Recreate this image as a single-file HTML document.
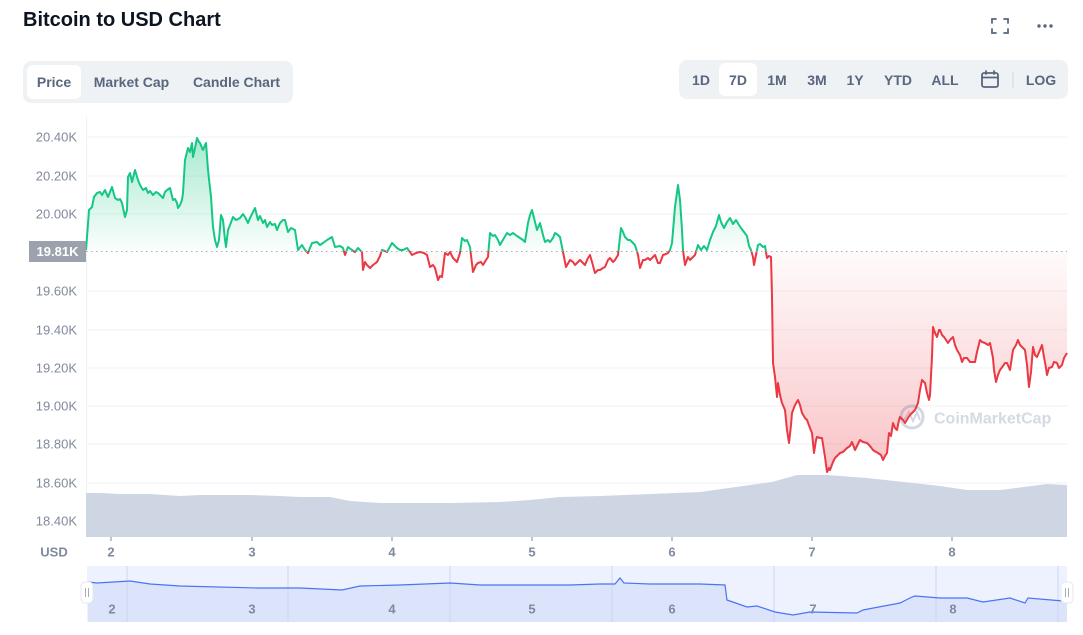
<!DOCTYPE html>
<html><head><meta charset="utf-8">
<style>
html,body{margin:0;padding:0;background:#fff;}
body{width:1083px;height:635px;overflow:hidden;position:relative;font-family:"Liberation Sans",Arial,sans-serif;}
.title{position:absolute;left:23px;top:10px;font-size:20px;line-height:20px;font-weight:bold;color:#0d1421;white-space:nowrap;}
.grp{position:absolute;background:#eff2f5;border-radius:8px;}
.act{position:absolute;background:#fff;border-radius:6px;}
.lbl{position:absolute;font-size:14px;font-weight:bold;color:#58667e;text-align:center;white-space:nowrap;line-height:16px;}
svg{position:absolute;left:0;top:0;}
</style></head><body>
<div class="title">Bitcoin to USD Chart</div>

<div class="grp" style="left:23px;top:61px;width:270px;height:42px;"></div>
<div class="act" style="left:27px;top:65px;width:54px;height:34px;"></div>
<div class="lbl" style="left:14px;top:74px;width:80px;">Price</div>
<div class="lbl" style="left:81px;top:74px;width:101px;">Market Cap</div>
<div class="lbl" style="left:186px;top:74px;width:101px;">Candle Chart</div>

<div class="grp" style="left:679px;top:60px;width:389px;height:39px;"></div>
<div class="act" style="left:719px;top:63px;width:38px;height:33px;"></div>
<div class="lbl" style="left:681px;top:72px;width:40px;">1D</div>
<div class="lbl" style="left:718px;top:72px;width:40px;">7D</div>
<div class="lbl" style="left:757px;top:72px;width:40px;">1M</div>
<div class="lbl" style="left:797px;top:72px;width:40px;">3M</div>
<div class="lbl" style="left:835px;top:72px;width:40px;">1Y</div>
<div class="lbl" style="left:873px;top:72px;width:50px;">YTD</div>
<div class="lbl" style="left:920px;top:72px;width:50px;">ALL</div>
<div class="lbl" style="left:1016px;top:72px;width:50px;">LOG</div>

<svg width="1083" height="635" viewBox="0 0 1083 635" xmlns="http://www.w3.org/2000/svg">
<defs>
<linearGradient id="gg" gradientUnits="userSpaceOnUse" x1="0" y1="137" x2="0" y2="251">
<stop offset="0" stop-color="#16c784" stop-opacity="0.38"/>
<stop offset="1" stop-color="#16c784" stop-opacity="0.02"/>
</linearGradient>
<linearGradient id="rg" gradientUnits="userSpaceOnUse" x1="0" y1="251" x2="0" y2="472">
<stop offset="0" stop-color="#ea3943" stop-opacity="0.02"/>
<stop offset="1" stop-color="#ea3943" stop-opacity="0.30"/>
</linearGradient>
<clipPath id="above"><rect x="80" y="100" width="1000" height="151"/></clipPath>
<clipPath id="below"><rect x="80" y="251" width="1000" height="300"/></clipPath>
</defs>

<!-- icons -->
<g stroke="#58667e" stroke-width="1.8" fill="none" stroke-linecap="round">
<path d="M992,23 V19 H996 M1004,19 H1008 V23 M1008,29 V33 H1004 M996,33 H992 V29"/>
<rect x="982" y="73" width="16" height="14" rx="2"/>
<path d="M982,77.5 H998 M986,71 V74 M994,71 V74"/>
</g>
<g fill="#58667e"><circle cx="1039" cy="26" r="1.7"/><circle cx="1045" cy="26" r="1.7"/><circle cx="1051" cy="26" r="1.7"/></g>
<line x1="1013" y1="72" x2="1013" y2="88" stroke="#cfd6e4" stroke-width="1"/>

<!-- grid -->
<g stroke="#eff2f5" stroke-width="1">
<line x1="86" y1="137" x2="1067" y2="137"/>
<line x1="86" y1="176" x2="1067" y2="176"/>
<line x1="86" y1="214" x2="1067" y2="214"/>
<line x1="86" y1="291" x2="1067" y2="291"/>
<line x1="86" y1="330" x2="1067" y2="330"/>
<line x1="86" y1="368" x2="1067" y2="368"/>
<line x1="86" y1="406" x2="1067" y2="406"/>
<line x1="86" y1="444" x2="1067" y2="444"/>
<line x1="86" y1="483" x2="1067" y2="483"/>
<line x1="86" y1="521" x2="1067" y2="521"/>
<line x1="86.5" y1="116" x2="86.5" y2="537"/>
</g>

<!-- y labels -->
<g font-family="Liberation Sans, Arial, sans-serif" font-size="13" fill="#808a9d" text-anchor="end">
<text x="77" y="141.5">20.40K</text>
<text x="77" y="180.5">20.20K</text>
<text x="77" y="218.5">20.00K</text>
<text x="77" y="295.5">19.60K</text>
<text x="77" y="334.5">19.40K</text>
<text x="77" y="372.5">19.20K</text>
<text x="77" y="410.5">19.00K</text>
<text x="77" y="448.5">18.80K</text>
<text x="77" y="487.5">18.60K</text>
<text x="77" y="525.5">18.40K</text>
</g>

<!-- volume -->
<path fill="#cfd6e3" d="M86,537 L86,493 L100,493 L120,494 L150,494 L180,496 L200,495 L250,495 L280,496 L300,497 L330,497 L350,501 L380,503 L450,503 L500,502 L530,500 L560,497 L600,496 L650,494 L700,492 L750,485 L772,482 L797,475 L827,475 L867,478 L913,483 L940,486 L967,490 L1000,490 L1047,484 L1067,485 L1067,537 Z"/>
<g stroke="#808a9d" stroke-width="1">
<line x1="111" y1="537" x2="111" y2="541"/><line x1="252" y1="537" x2="252" y2="541"/>
<line x1="392" y1="537" x2="392" y2="541"/><line x1="532" y1="537" x2="532" y2="541"/>
<line x1="672" y1="537" x2="672" y2="541"/><line x1="812" y1="537" x2="812" y2="541"/>
<line x1="952" y1="537" x2="952" y2="541"/>
</g>

<!-- watermark -->
<g opacity="0.9">
<circle cx="912" cy="417" r="11" fill="none" stroke="#cdd4df" stroke-width="3"/>
<path d="M904,420 L909,412 L913,421 L917,412 L920,420" fill="none" stroke="#cdd4df" stroke-width="2"/>
<text x="934" y="423.5" font-family="Liberation Sans, Arial, sans-serif" font-size="16" font-weight="bold" fill="#d0d6e0">CoinMarketCap</text>
</g>

<!-- price -->
<g id="pr">
<path clip-path="url(#above)" fill="url(#gg)" d="M86,251 L86,250 87,237 89,210 92,207 94,197 97,193 100,192 102,195 105,190 108,197 110,192 112,187 115,198 118,200 120,199 122,203 125,217 127,210 128,177 130,173 132,182 135,170 138,180 140,185 143,190 146,188 148,193 150,191 153,195 156,192 158,193 161,196 163,198 165,192 167,190 170,188 173,200 175,199 177,203 178,208 180,205 182,200 183,193 185,160 188,148 190,152 192,143 193,157 195,148 197,138 199,142 200,143 202,148 203,150 205,145 206,143 208,170 211,197 213,227 215,240 217,247 219,240 221,215 223,220 225,240 226,247 228,230 230,225 233,217 236,220 240,218 243,214 245,217 248,223 250,218 253,212 255,208 258,220 260,216 263,223 265,220 267,227 270,222 272,225 275,224 277,230 280,223 283,220 285,220 288,232 291,228 295,230 298,250 302,245 305,250 308,253 312,243 317,242 320,245 323,243 327,240 332,237 335,247 340,246 343,248 345,255 348,247 352,250 355,252 358,248 362,252 363,270 365,262 367,265 370,268 373,265 377,262 380,256 382,250 385,251 387,252 392,243 395,246 397,248 400,250 403,250 407,248 410,252 412,255 416,253 420,252 424,253 427,255 430,267 433,265 435,268 438,280 440,276 442,277 445,253 448,255 450,252 453,258 457,262 460,253 462,238 465,241 467,240 470,247 473,272 476,265 478,263 481,262 483,265 486,260 488,257 490,233 493,236 495,235 498,240 500,245 504,238 507,233 510,235 513,233 517,236 520,238 523,240 525,242 528,223 530,215 532,210 535,222 537,230 540,223 543,235 545,242 548,240 550,242 553,238 555,233 558,235 560,237 563,252 566,267 570,260 573,262 575,265 578,262 580,260 583,263 585,265 588,258 590,255 592,262 595,273 598,270 600,270 603,268 605,267 608,260 610,258 613,262 615,260 618,255 621,228 623,232 625,237 628,240 630,240 633,243 635,245 638,255 640,268 643,260 645,260 648,258 650,260 653,257 655,255 658,263 660,263 663,255 666,254 668,253 670,250 672,243 675,207 678,185 680,200 682,230 683,250 685,265 688,257 690,260 693,257 695,255 698,245 701,250 704,246 707,250 710,240 713,232 716,226 719,215 721,222 724,228 727,222 730,218 733,224 736,220 739,225 741,228 744,232 747,236 749,246 751,250 753,257 754,265 756,255 758,245 760,244 763,247 765,246 767,258 769,256 771,257 772,297 773,363 775,377 777,397 778,383 780,395 782,403 785,410 787,430 789,443 791,425 792,413 795,405 798,400 800,405 802,413 805,418 807,420 810,428 812,433 814,453 816,440 817,437 820,438 822,438 825,457 827,472 829,468 830,470 833,462 835,458 838,455 840,453 843,452 845,450 847,448 850,446 852,442 855,450 857,446 860,440 863,442 867,443 870,446 873,450 876,452 878,453 881,455 883,460 885,456 887,453 889,433 891,436 893,423 895,428 897,430 899,420 900,417 903,420 905,423 908,418 910,415 913,412 915,410 918,403 920,390 922,380 924,382 925,383 927,393 929,400 930,395 932,357 933,327 935,333 937,337 939,330 940,330 942,335 944,337 946,340 948,343 950,340 953,337 955,345 957,350 960,355 962,362 964,358 967,358 970,362 972,362 975,362 977,352 980,340 982,342 985,343 988,345 990,343 993,358 994,370 996,382 998,375 1000,370 1003,366 1005,363 1007,363 1010,370 1013,350 1016,345 1018,340 1020,345 1022,347 1025,350 1027,365 1029,387 1031,372 1033,347 1035,355 1037,357 1040,350 1042,345 1044,357 1046,368 1047,375 1049,368 1052,367 1054,362 1057,363 1059,368 1062,365 1064,358 1067,353 L1067,251 Z"/>
</g>
<use href="#pr" clip-path="url(#below)" style="display:none"/>
<path id="redfill" clip-path="url(#below)" fill="url(#rg)" d=""/>

<!-- line -->
<path id="ln" fill="none" stroke="#16c784" stroke-width="2" stroke-linejoin="round" clip-path="url(#above)" d="M86,250 87,237 89,210 92,207 94,197 97,193 100,192 102,195 105,190 108,197 110,192 112,187 115,198 118,200 120,199 122,203 125,217 127,210 128,177 130,173 132,182 135,170 138,180 140,185 143,190 146,188 148,193 150,191 153,195 156,192 158,193 161,196 163,198 165,192 167,190 170,188 173,200 175,199 177,203 178,208 180,205 182,200 183,193 185,160 188,148 190,152 192,143 193,157 195,148 197,138 199,142 200,143 202,148 203,150 205,145 206,143 208,170 211,197 213,227 215,240 217,247 219,240 221,215 223,220 225,240 226,247 228,230 230,225 233,217 236,220 240,218 243,214 245,217 248,223 250,218 253,212 255,208 258,220 260,216 263,223 265,220 267,227 270,222 272,225 275,224 277,230 280,223 283,220 285,220 288,232 291,228 295,230 298,250 302,245 305,250 308,253 312,243 317,242 320,245 323,243 327,240 332,237 335,247 340,246 343,248 345,255 348,247 352,250 355,252 358,248 362,252 363,270 365,262 367,265 370,268 373,265 377,262 380,256 382,250 385,251 387,252 392,243 395,246 397,248 400,250 403,250 407,248 410,252 412,255 416,253 420,252 424,253 427,255 430,267 433,265 435,268 438,280 440,276 442,277 445,253 448,255 450,252 453,258 457,262 460,253 462,238 465,241 467,240 470,247 473,272 476,265 478,263 481,262 483,265 486,260 488,257 490,233 493,236 495,235 498,240 500,245 504,238 507,233 510,235 513,233 517,236 520,238 523,240 525,242 528,223 530,215 532,210 535,222 537,230 540,223 543,235 545,242 548,240 550,242 553,238 555,233 558,235 560,237 563,252 566,267 570,260 573,262 575,265 578,262 580,260 583,263 585,265 588,258 590,255 592,262 595,273 598,270 600,270 603,268 605,267 608,260 610,258 613,262 615,260 618,255 621,228 623,232 625,237 628,240 630,240 633,243 635,245 638,255 640,268 643,260 645,260 648,258 650,260 653,257 655,255 658,263 660,263 663,255 666,254 668,253 670,250 672,243 675,207 678,185 680,200 682,230 683,250 685,265 688,257 690,260 693,257 695,255 698,245 701,250 704,246 707,250 710,240 713,232 716,226 719,215 721,222 724,228 727,222 730,218 733,224 736,220 739,225 741,228 744,232 747,236 749,246 751,250 753,257 754,265 756,255 758,245 760,244 763,247 765,246 767,258 769,256 771,257 772,297 773,363 775,377 777,397 778,383 780,395 782,403 785,410 787,430 789,443 791,425 792,413 795,405 798,400 800,405 802,413 805,418 807,420 810,428 812,433 814,453 816,440 817,437 820,438 822,438 825,457 827,472 829,468 830,470 833,462 835,458 838,455 840,453 843,452 845,450 847,448 850,446 852,442 855,450 857,446 860,440 863,442 867,443 870,446 873,450 876,452 878,453 881,455 883,460 885,456 887,453 889,433 891,436 893,423 895,428 897,430 899,420 900,417 903,420 905,423 908,418 910,415 913,412 915,410 918,403 920,390 922,380 924,382 925,383 927,393 929,400 930,395 932,357 933,327 935,333 937,337 939,330 940,330 942,335 944,337 946,340 948,343 950,340 953,337 955,345 957,350 960,355 962,362 964,358 967,358 970,362 972,362 975,362 977,352 980,340 982,342 985,343 988,345 990,343 993,358 994,370 996,382 998,375 1000,370 1003,366 1005,363 1007,363 1010,370 1013,350 1016,345 1018,340 1020,345 1022,347 1025,350 1027,365 1029,387 1031,372 1033,347 1035,355 1037,357 1040,350 1042,345 1044,357 1046,368 1047,375 1049,368 1052,367 1054,362 1057,363 1059,368 1062,365 1064,358 1067,353"/>
<path id="ln2" fill="none" stroke="#ea3943" stroke-width="2" stroke-linejoin="round" clip-path="url(#below)" d=""/>
<script>
(function(){
var a=document.querySelector('#pr path').getAttribute('d');
document.getElementById('redfill').setAttribute('d',a);
document.getElementById('ln2').setAttribute('d',document.getElementById('ln').getAttribute('d'));
})();
</script>

<!-- baseline -->
<line x1="86" y1="251.5" x2="1067" y2="251.5" stroke="#a6adb9" stroke-width="1" stroke-dasharray="1.5,3.5"/>
<rect x="29" y="241" width="57" height="21" fill="#9ba1ad"/>
<text x="57.5" y="256" text-anchor="middle" font-family="Liberation Sans, Arial, sans-serif" font-size="13" font-weight="bold" fill="#fff">19.81K</text>

<!-- x labels -->
<g font-family="Liberation Sans, Arial, sans-serif" font-size="13" font-weight="bold" fill="#808a9d" text-anchor="middle">
<text x="54" y="556.5">USD</text>
<text x="111" y="556.5">2</text><text x="252" y="556.5">3</text><text x="392" y="556.5">4</text>
<text x="532" y="556.5">5</text><text x="672" y="556.5">6</text><text x="812" y="556.5">7</text><text x="952" y="556.5">8</text>
</g>

<!-- navigator -->
<rect x="87" y="566" width="980" height="56" fill="#eef2fe"/>
<path fill="#dce4fb" d="M88,622 L88,582 97,583 130,581 150,584 180,586 257,588 300,588 342,590 360,586 400,585 450,583 480,585 530,585 570,585 600,584 615,584 620,578 624,583 650,584 700,584 725,585 727,600 747,607 757,606 775,612 793,615 810,612 857,613 863,610 900,603 912,597 915,596 940,598 967,598 983,602 1010,598 1025,603 1028,598 1063,601 L1067,601 L1067,622 Z"/>
<g stroke="#cbd5f3" stroke-width="1">
<line x1="127" y1="566" x2="127" y2="622"/><line x1="288" y1="566" x2="288" y2="622"/>
<line x1="450" y1="566" x2="450" y2="622"/><line x1="612" y1="566" x2="612" y2="622"/>
<line x1="774" y1="566" x2="774" y2="622"/><line x1="936" y1="566" x2="936" y2="622"/>
<line x1="1058" y1="566" x2="1058" y2="622"/>
</g>
<path fill="none" stroke="#4a74f5" stroke-width="1.2" d="M88,582 97,583 130,581 150,584 180,586 257,588 300,588 342,590 360,586 400,585 450,583 480,585 530,585 570,585 600,584 615,584 620,578 624,583 650,584 700,584 725,585 727,600 747,607 757,606 775,612 793,615 810,612 857,613 863,610 900,603 912,597 915,596 940,598 967,598 983,602 1010,598 1025,603 1028,598 1063,601 1067,601"/>
<g font-family="Liberation Sans, Arial, sans-serif" font-size="13" font-weight="bold" fill="#808a9d" text-anchor="middle">
<text x="112" y="613.5">2</text><text x="252" y="613.5">3</text><text x="392" y="613.5">4</text>
<text x="532" y="613.5">5</text><text x="672" y="613.5">6</text><text x="813" y="613.5">7</text><text x="953" y="613.5">8</text>
</g>
<g>
<rect x="81" y="582" width="12" height="21" rx="4" fill="#fff" stroke="#e3e7ee" stroke-width="1"/>
<line x1="85.5" y1="588" x2="85.5" y2="597" stroke="#a6adb9" stroke-width="1"/>
<line x1="88.5" y1="588" x2="88.5" y2="597" stroke="#a6adb9" stroke-width="1"/>
<rect x="1061" y="582" width="12" height="21" rx="4" fill="#fff" stroke="#e3e7ee" stroke-width="1"/>
<line x1="1065.5" y1="588" x2="1065.5" y2="597" stroke="#a6adb9" stroke-width="1"/>
<line x1="1068.5" y1="588" x2="1068.5" y2="597" stroke="#a6adb9" stroke-width="1"/>
</g>
</svg>
</body></html>
